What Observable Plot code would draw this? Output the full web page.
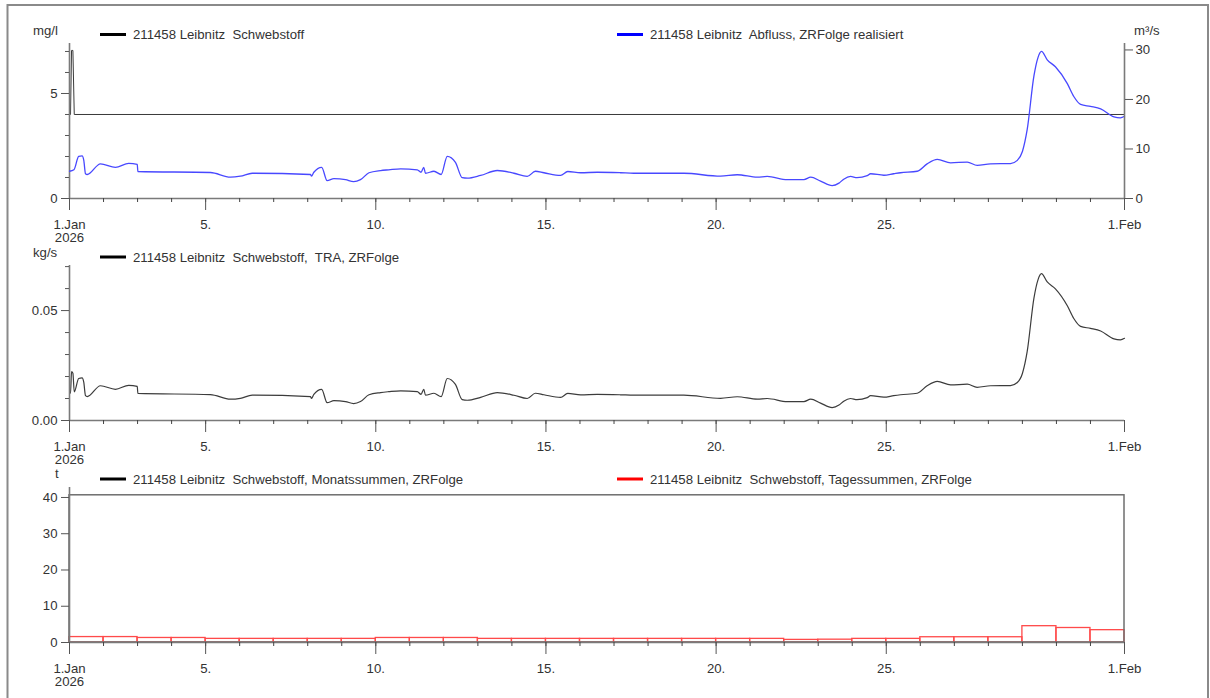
<!DOCTYPE html>
<html>
<head>
<meta charset="utf-8">
<script src="https://cdn.jsdelivr.net/npm/d3@7"></script>
<script src="https://cdn.jsdelivr.net/npm/@observablehq/plot@0.6"></script>
<style>
  html, body { margin: 0; padding: 0; background: #fff; }
  #page { position: relative; width: 1210px; height: 698px; overflow: hidden; background: #fff;
          font-family: "Liberation Sans", Arial, sans-serif; }
  #page > svg, #page > div { position: absolute; left: 0; }
</style>
</head>
<body>
<div id="page"></div>
<script>
// ---------------- DATA ----------------
// time offsets are in days since 1 Jan 2026 00:00
const concDays   = [0, 0.03, 0.06, 0.10, 0.14, 31];
const concValues = [4.0, 4.0, 7.05, 7.05, 4.0, 4.0];           // mg/l

const flowDays = [0, 0.13, 0.27, 0.37, 0.42, 0.47, 0.52, 0.91, 1.35, 1.74, 1.99, 2.01, 4.14, 4.73, 5.02, 5.37,
  7.08, 7.11, 7.18, 7.41, 7.57, 7.77, 8.11, 8.35, 8.55, 8.80, 9.14, 9.38, 9.73, 10.22, 10.33, 10.41, 10.46,
  10.71, 10.92, 11.10, 11.34, 11.54, 11.69, 12.08, 12.57, 13.06, 13.45, 13.69, 13.94, 14.43, 14.64, 15.02,
  15.51, 16.19, 16.58, 18.05, 19.13, 19.62, 20.21, 20.50, 21.09, 21.58, 21.78, 22.07, 22.41, 22.61, 22.75,
  22.95, 23.14, 23.44, 23.54, 23.93, 24.22, 24.42, 24.91, 25.20, 25.50, 25.89, 26.38, 26.67, 27.06, 27.65,
  27.85, 28.00, 28.14, 28.34, 28.46, 28.56, 28.73, 28.97, 29.32, 29.51, 29.71, 30.00, 30.30, 30.69, 30.88, 31.00];
const flowValues = [5.5, 5.8, 8.5, 8.6, 7.7, 5.0, 4.85, 7.0, 6.3, 7.1, 6.9, 5.45, 5.25, 4.3, 4.5, 5.1,
  4.85, 4.5, 5.3, 6.3, 3.6, 4.0, 3.8, 3.4, 3.8, 5.2, 5.65, 5.8, 6.0, 5.8, 5.3, 6.3, 5.1,
  5.5, 4.85, 8.5, 7.3, 4.2, 4.1, 4.65, 5.65, 5.1, 4.45, 5.5, 5.2, 4.65, 5.45, 5.2,
  5.3, 5.2, 5.1, 5.1, 4.5, 4.8, 4.3, 4.45, 3.8, 3.8, 4.3, 3.5, 2.6, 3.1, 3.9,
  4.45, 4.2, 4.6, 5.0, 4.7, 5.0, 5.2, 5.5, 7.0, 7.9, 7.2, 7.35, 6.7, 7.0, 7.05,
  7.7, 9.5, 13.9, 24.8, 28.5, 29.7, 28.0, 26.6, 23.2, 20.6, 19.0, 18.6, 18.1, 16.5, 16.3, 16.6]; // m³/s

const traDays = [0, 0.03, 0.06, 0.10, 0.14, 0.27, 0.37, 0.42, 0.47, 0.52, 0.91, 1.35, 1.74, 1.99, 2.01, 4.14,
  4.73, 5.02, 5.37, 7.08, 7.11, 7.18, 7.41, 7.57, 7.77, 8.11, 8.35, 8.55, 8.80, 9.14, 9.38, 9.73, 10.22,
  10.33, 10.41, 10.46, 10.71, 10.92, 11.10, 11.34, 11.54, 11.69, 12.08, 12.57, 13.06, 13.45, 13.69, 13.94,
  14.43, 14.64, 15.02, 15.51, 16.19, 16.58, 18.05, 19.13, 19.62, 20.21, 20.50, 21.09, 21.58, 21.78, 22.07,
  22.41, 22.61, 22.75, 22.95, 23.14, 23.44, 23.54, 23.93, 24.22, 24.42, 24.91, 25.20, 25.50, 25.89, 26.38,
  26.67, 27.06, 27.65, 27.85, 28.00, 28.14, 28.34, 28.46, 28.56, 28.73, 28.97, 29.32, 29.51, 29.71, 30.00,
  30.30, 30.69, 30.88, 31.00];
const traValues = [0.0124, 0.0124, 0.0222, 0.0215, 0.0130, 0.0191, 0.0194, 0.0173, 0.0113, 0.0109, 0.0158,
  0.0142, 0.0160, 0.0155, 0.0123, 0.0118, 0.0097, 0.0101, 0.0115, 0.0109, 0.0101, 0.0119, 0.0142, 0.0081,
  0.0090, 0.0086, 0.0077, 0.0086, 0.0117, 0.0127, 0.0131, 0.0135, 0.0131, 0.0119, 0.0142, 0.0115, 0.0124,
  0.0109, 0.0191, 0.0164, 0.0095, 0.0092, 0.0105, 0.0127, 0.0115, 0.0100, 0.0124, 0.0117, 0.0105, 0.0123,
  0.0117, 0.0119, 0.0117, 0.0115, 0.0115, 0.0101, 0.0108, 0.0097, 0.0100, 0.0086, 0.0086, 0.0097, 0.0079,
  0.0059, 0.0070, 0.0088, 0.0100, 0.0095, 0.0104, 0.0113, 0.0106, 0.0113, 0.0117, 0.0124, 0.0158, 0.0178,
  0.0162, 0.0165, 0.0151, 0.0158, 0.0159, 0.0173, 0.0214, 0.0313, 0.0558, 0.0641, 0.0668, 0.0630, 0.0599,
  0.0522, 0.0464, 0.0428, 0.0419, 0.0407, 0.0371, 0.0367, 0.0374];       // kg/s

const dailySums = [1.5, 1.5, 1.25, 1.25, 1.0, 1.0, 1.0, 1.0, 1.0, 1.25, 1.25, 1.25, 1.0, 1.0, 1.0, 1.0,
  1.0, 1.0, 1.0, 1.0, 1.0, 0.72, 0.78, 1.0, 1.0, 1.45, 1.45, 1.45, 4.5, 4.0, 3.4];   // t per day
const monthStart = [0], monthEnd = [31], monthSums = [40.6];                          // t per month

const xTickOffsets = [0, 4, 9, 14, 19, 24, 31];
const xTickLabels  = ["1.Jan\n2026", "5.", "10.", "15.", "20.", "25.", "1.Feb"];
const unitLabels   = ["mg/l", "m³/s", "kg/s", "t"];
const legendLabels = [
  "211458 Leibnitz  Schwebstoff",
  "211458 Leibnitz  Abfluss, ZRFolge realisiert",
  "211458 Leibnitz  Schwebstoff,  TRA, ZRFolge",
  "211458 Leibnitz  Schwebstoff, Monatssummen, ZRFolge",
  "211458 Leibnitz  Schwebstoff, Tagessummen, ZRFolge"
];
const legendColors = ["#000000", "#0000ff", "#000000", "#000000", "#ff0000"];

// ---------------- HELPERS ----------------
const t0 = Date.UTC(2026, 0, 1);
const toDate = d => new Date(t0 + d * 864e5);
const xDomain = [toDate(0), toDate(31)];
const dayTicks = d3.range(0, 32).map(toDate);
const majorTicks = xTickOffsets.map(toDate);
const labelMap = new Map(xTickOffsets.map((o, i) => [+toDate(o), xTickLabels[i]]));
const series = (days, vals) => days.map((d, i) => ({t: toDate(d), v: vals[i]}));

const FONT = '"Liberation Sans", Arial, sans-serif';
const AXIS = "#7a7a7a";
const page = document.getElementById("page");

function xAxisMarks() {
  return [
    Plot.axisX({ticks: dayTicks, tickSize: 4, tickFormat: () => "", label: null, stroke: "#444"}),
    Plot.axisX({ticks: majorTicks, tickSize: 12, tickPadding: 9, label: null, stroke: "#555",
                fill: "#333", tickFormat: d => labelMap.get(+d) ?? ""})
  ];
}

function panel(top, yDomain, marks, extra = {}) {
  const svg = Plot.plot({
    width: 1210, height: 212,
    marginLeft: 69, marginRight: 86, marginTop: 5, marginBottom: 52,
    x: {type: "utc", domain: xDomain, ...(extra.xAxisNull ? {axis: null} : {})},
    y: {domain: yDomain},
    style: {fontFamily: FONT, fontSize: "13.2px", color: "#333", background: "none", overflow: "visible"},
    marks
  });
  svg.style.position = "absolute";
  svg.style.left = "0px";
  svg.style.top = top + "px";
  page.appendChild(svg);
}

// ---------------- PANEL 1 (mg/l, left) ----------------
const conc = series(concDays, concValues);
panel(38, [0, 7.38], [
  Plot.line(conc, {x: "t", y: "v", stroke: "#3a3a3a", strokeWidth: 1}),
  Plot.ruleY([0], {stroke: AXIS, strokeWidth: 1.6}),
  Plot.ruleX([xDomain[0]], {stroke: AXIS, strokeWidth: 1.6}),
  Plot.axisY({ticks: [1, 2, 3, 4, 6, 7], tickSize: 4, tickFormat: () => "", label: null, stroke: "#555"}),
  Plot.axisY({ticks: [0, 5], tickSize: 8, tickPadding: 4, label: null, stroke: "#555", fill: "#333",
              tickFormat: d => String(d)}),
  ...xAxisMarks()
]);
// ---------------- PANEL 1 overlay (m³/s, right) ----------------
const flow = series(flowDays, flowValues);
panel(38, [0, 31.3], [
  Plot.line(flow, {x: "t", y: "v", stroke: "#4848ff", strokeWidth: 1.3, curve: "monotone-x"}),
  Plot.ruleX([xDomain[1]], {stroke: AXIS, strokeWidth: 1.6}),
  Plot.axisY({anchor: "right", ticks: [0, 10, 20, 30], tickSize: 8, tickPadding: 3, label: null,
              stroke: "#555", fill: "#333", tickFormat: d => String(d)})
], {xAxisNull: true});

// ---------------- PANEL 2 (kg/s) ----------------
const tra = series(traDays, traValues);
panel(260, [0, 0.0705], [
  Plot.line(tra, {x: "t", y: "v", stroke: "#3c3c3c", strokeWidth: 1.2, curve: "monotone-x"}),
  Plot.ruleY([0], {stroke: AXIS, strokeWidth: 1.6}),
  Plot.ruleX([xDomain[0]], {stroke: AXIS, strokeWidth: 1.6}),
  Plot.axisY({ticks: [0.01, 0.02, 0.03, 0.04, 0.06, 0.07], tickSize: 4, tickFormat: () => "", label: null, stroke: "#555"}),
  Plot.axisY({ticks: [0, 0.05], tickSize: 8, tickPadding: 4, label: null, stroke: "#555", fill: "#333",
              tickFormat: d3.format(".2f")}),
  ...xAxisMarks()
]);

// ---------------- PANEL 3 (t) ----------------
const daily = dailySums.map((v, i) => ({x1: toDate(i), x2: toDate(i + 1), v}));
const monthly = monthSums.map((v, i) => ({x1: toDate(monthStart[i]), x2: toDate(monthEnd[i]), v}));
panel(482, [0, 42.75], [
  Plot.rectY(daily, {x1: "x1", x2: "x2", y: "v", fill: "none", stroke: "#ff4a4a", strokeWidth: 1.3}),
  Plot.rectY(monthly, {x1: "x1", x2: "x2", y: "v", fill: "none", stroke: "#6e6e6e", strokeWidth: 1.5}),
  Plot.ruleY([0], {stroke: AXIS, strokeWidth: 1.6}),
  Plot.ruleX([xDomain[0]], {stroke: AXIS, strokeWidth: 1.6}),
  Plot.axisY({ticks: [0, 10, 20, 30, 40], tickSize: 8, tickPadding: 4, label: null, stroke: "#555", fill: "#333",
              tickFormat: d => String(d)}),
  ...xAxisMarks()
]);

// ---------------- Frame, units & legends ----------------
const ann = d3.create("svg").attr("width", 1210).attr("height", 698)
  .style("position", "absolute").style("left", "0px").style("top", "0px")
  .style("font-family", FONT).style("font-size", "13.2px").style("pointer-events", "none");

ann.append("path").attr("d", "M7.5,700V5H1208V700").attr("fill", "none")
  .attr("stroke", "#8a8a8a").attr("stroke-width", 2);

const unitPos = [[33, 35], [1134, 35], [33, 257], [55, 478]];
unitLabels.forEach((u, i) => {
  ann.append("text").attr("x", unitPos[i][0]).attr("y", unitPos[i][1]).attr("fill", "#333").text(u);
});

const legendPos = [[100, 34.5], [617, 34.5], [100, 257], [100, 479], [617, 479]];
legendLabels.forEach((lab, i) => {
  const [x, y] = legendPos[i];
  ann.append("line").attr("x1", x).attr("x2", x + 26).attr("y1", y).attr("y2", y)
    .attr("stroke", legendColors[i]).attr("stroke-width", 3);
  ann.append("text").attr("x", x + 33).attr("y", y + 4.5).attr("fill", "#333")
    .attr("xml:space", "preserve").style("white-space", "pre").text(lab);
});
page.appendChild(ann.node());
</script>
</body>
</html>
